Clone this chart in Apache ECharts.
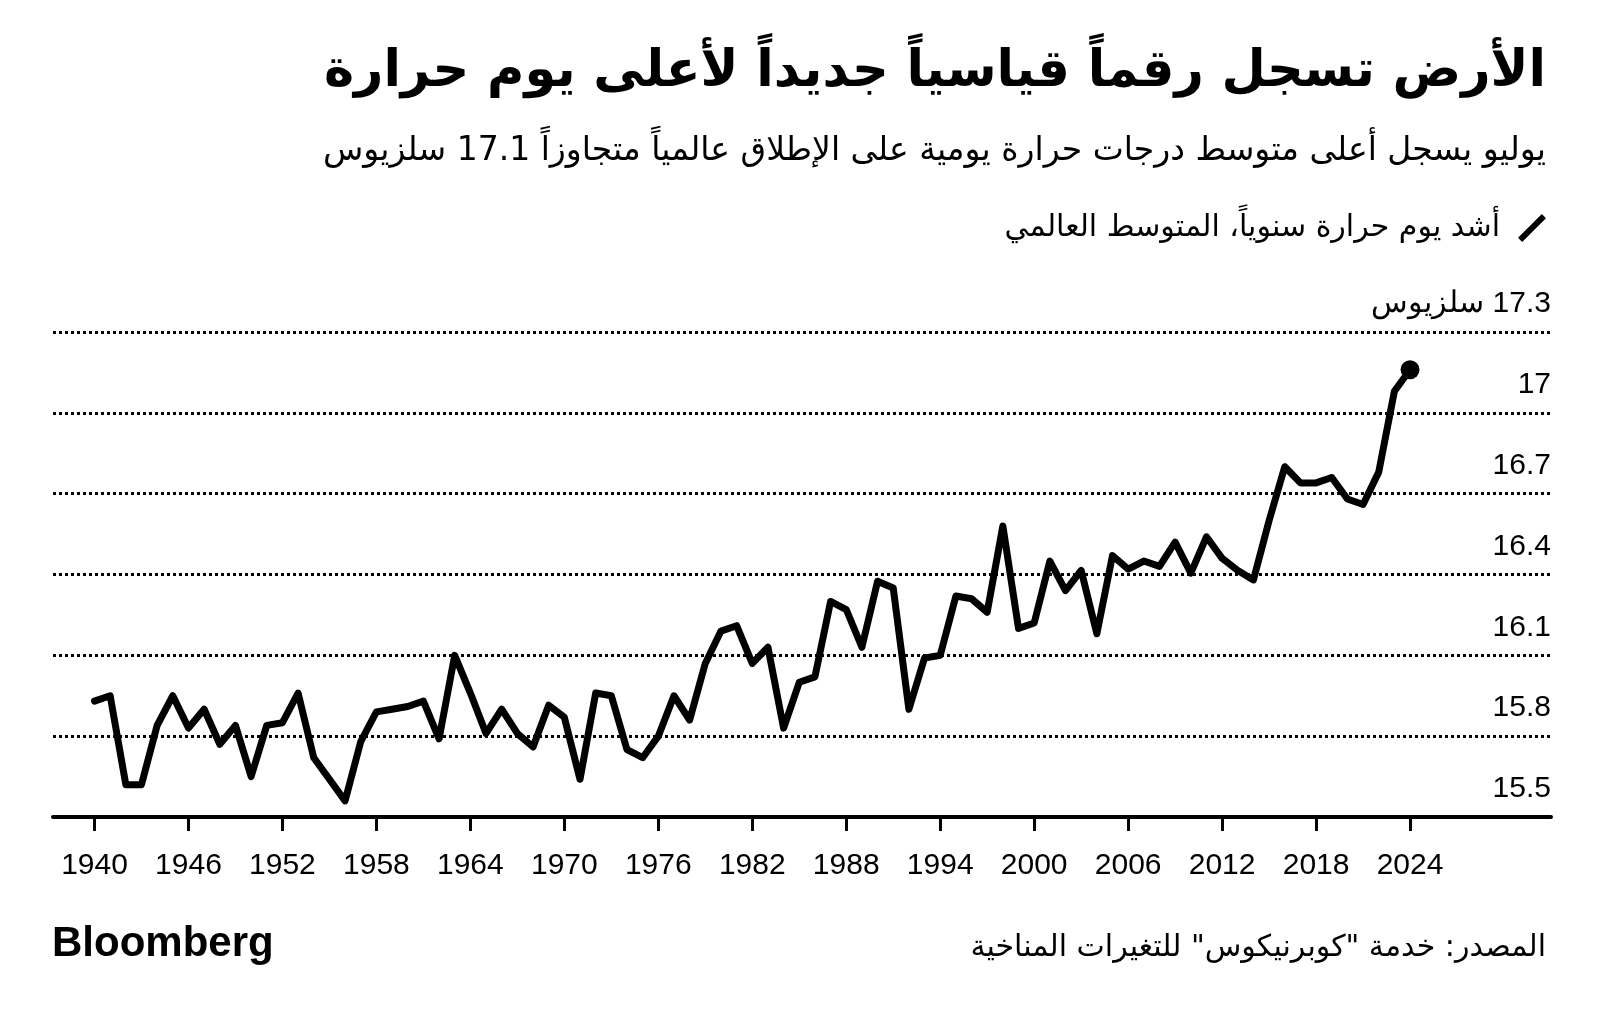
<!DOCTYPE html>
<html lang="ar" dir="rtl">
<head>
<meta charset="utf-8">
<title>الأرض تسجل رقماً قياسياً جديداً لأعلى يوم حرارة</title>
<script src="https://cdn.jsdelivr.net/npm/echarts@6.0.0/dist/echarts.min.js"></script>
<style>
  html, body { margin: 0; padding: 0; background: #fff; }
  #chartmain { width: 1600px; height: 1019px; }
</style>
</head>
<body>
<div id="chartmain"></div>
<script>
// السنوات
var years = [
  1940, 1941, 1942, 1943, 1944, 1945, 1946, 1947, 1948, 1949,
  1950, 1951, 1952, 1953, 1954, 1955, 1956, 1957, 1958, 1959,
  1960, 1961, 1962, 1963, 1964, 1965, 1966, 1967, 1968, 1969,
  1970, 1971, 1972, 1973, 1974, 1975, 1976, 1977, 1978, 1979,
  1980, 1981, 1982, 1983, 1984, 1985, 1986, 1987, 1988, 1989,
  1990, 1991, 1992, 1993, 1994, 1995, 1996, 1997, 1998, 1999,
  2000, 2001, 2002, 2003, 2004, 2005, 2006, 2007, 2008, 2009,
  2010, 2011, 2012, 2013, 2014, 2015, 2016, 2017, 2018, 2019,
  2020, 2021, 2022, 2023, 2024
];
// أشد يوم حرارة سنوياً (درجة مئوية)
var hottestDay = [
  15.93, 15.95, 15.62, 15.62, 15.84, 15.95, 15.83, 15.90, 15.77, 15.84,
  15.65, 15.84, 15.85, 15.96, 15.72, 15.64, 15.56, 15.78, 15.89, 15.90,
  15.91, 15.93, 15.79, 16.10, 15.96, 15.81, 15.90, 15.81, 15.76, 15.915,
  15.87, 15.64, 15.96, 15.95, 15.75, 15.72, 15.80, 15.95, 15.86, 16.07,
  16.19, 16.21, 16.07, 16.13, 15.83, 16.00, 16.02, 16.30, 16.27, 16.13,
  16.375, 16.35, 15.90, 16.09, 16.10, 16.32, 16.31, 16.26, 16.58, 16.20,
  16.22, 16.45, 16.34, 16.415, 16.18, 16.47, 16.42, 16.45, 16.43, 16.52,
  16.405, 16.54, 16.46, 16.415, 16.38, 16.60, 16.80, 16.74, 16.74, 16.76,
  16.68, 16.66, 16.78, 17.08, 17.16
];
var yearTicks = [1940, 1946, 1952, 1958, 1964, 1970, 1976, 1982, 1988, 1994, 2000, 2006, 2012, 2018, 2024];
var tempTicks = [15.5, 15.8, 16.1, 16.4, 16.7, 17, 17.3];

var arabicFont = "'DejaVu Sans', 'Noto Sans', sans-serif";
var latinFont = "'Liberation Sans', Arial, sans-serif";

var lineData = [];
for (var i = 0; i < years.length; i++) {
    lineData.push([years[i], hottestDay[i]]);
}
var last = years.length - 1;

option = {
    animation: false,
    backgroundColor: '#ffffff',
    title: [
        {
            text: 'الأرض تسجل رقماً قياسياً جديداً لأعلى يوم حرارة',
            right: 54,
            top: 47,
            padding: 0,
            textStyle: { fontFamily: arabicFont, fontSize: 51, fontWeight: 'bold', color: '#000' }
        },
        {
            text: 'يوليو يسجل أعلى متوسط درجات حرارة يومية على الإطلاق عالمياً متجاوزاً 17.1 سلزيوس',
            right: 54,
            top: 135,
            padding: 0,
            textStyle: { fontFamily: arabicFont, fontSize: 33, fontWeight: 'normal', color: '#000' }
        },
        {
            text: 'المصدر: خدمة "كوبرنيكوس" للتغيرات المناخية',
            right: 54,
            top: 933,
            padding: 0,
            textStyle: { fontFamily: arabicFont, fontSize: 30, fontWeight: 'normal', color: '#000' }
        },
        {
            text: 'Bloomberg',
            left: 52,
            top: 923,
            padding: 0,
            textStyle: { fontFamily: latinFont, fontSize: 42, fontWeight: 'bold', color: '#000' }
        }
    ],
    legend: {
        right: 54,
        top: 213,
        padding: 0,
        align: 'right',
        itemWidth: 28,
        itemHeight: 28,
        icon: 'path://M0.9,24.9 L24.9,0.9 L29.1,5.1 L5.1,29.1 Z',
        textStyle: { fontFamily: arabicFont, fontSize: 30, color: '#000', padding: [0, 13, 0, 0] },
        data: ['أشد يوم حرارة سنوياً، المتوسط العالمي']
    },
    grid: {
        left: 53,
        right: 49,
        top: 332,
        bottom: 202
    },
    xAxis: {
        type: 'value',
        min: 1937.35,
        max: 2033,
        axisLine: { show: true, onZero: false, lineStyle: { color: '#000', width: 4 } },
        axisTick: { show: true, customValues: yearTicks, length: 14, lineStyle: { color: '#000', width: 3 } },
        axisLabel: {
            customValues: yearTicks,
            margin: 34,
            fontFamily: latinFont,
            fontSize: 30,
            color: '#000',
            formatter: function (v) {
                return String(v);
            }
        },
        splitLine: { show: false }
    },
    yAxis: {
        type: 'value',
        position: 'right',
        min: 15.5,
        max: 17.3,
        axisLine: { show: false },
        axisTick: { show: false, customValues: tempTicks },
        axisLabel: {
            customValues: tempTicks,
            inside: true,
            margin: 0,
            verticalAlign: 'bottom',
            padding: [0, 0, 13, 0],
            fontFamily: latinFont,
            fontSize: 30,
            color: '#000',
            formatter: function (v) {
                if (v === 17.3) {
                    return '17.3 سلزيوس';
                }
                return String(v);
            }
        },
        splitLine: {
            show: true,
            lineStyle: { color: '#000', width: 3, type: [3, 3] }
        }
    },
    series: [
        {
            name: 'أشد يوم حرارة سنوياً، المتوسط العالمي',
            type: 'line',
            data: lineData,
            symbol: 'none',
            color: '#000',
            lineStyle: { color: '#000', width: 7, join: 'round', cap: 'round' },
            z: 3
        },
        {
            type: 'scatter',
            data: [[years[last], hottestDay[last]]],
            symbol: 'circle',
            symbolSize: 19,
            itemStyle: { color: '#000', opacity: 1 },
            z: 4
        }
    ]
};

//获取dom容器
var myChart = echarts.init(document.getElementById('chartmain'));
myChart.setOption(option);
</script>
</body>
</html>
